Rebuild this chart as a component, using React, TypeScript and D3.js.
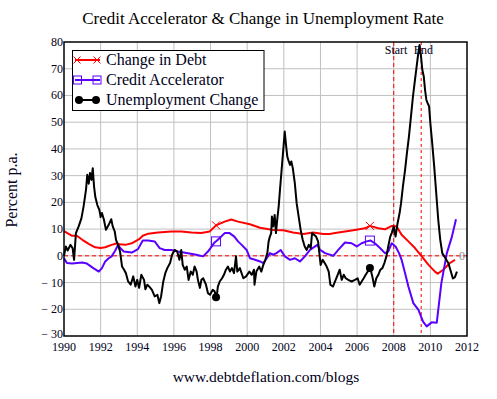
import React from 'react';
import * as d3 from 'd3';

// ---------- DATA ----------
const xTicks = [1990, 1992, 1994, 1996, 1998, 2000, 2002, 2004, 2006, 2008, 2010, 2012];
const yTicks = [-30, -20, -10, 0, 10, 20, 30, 40, 50, 60, 70, 80];

const debtYears = [1990, 1990.44, 1990.7, 1991, 1991.35, 1991.7, 1992, 1992.25, 1992.6, 1992.9, 1993.0, 1993.35, 1993.7, 1994.1, 1994.3, 1994.6, 1995.13, 1995.86, 1996.4, 1996.95, 1997.5, 1997.95, 1998.3, 1998.77, 1999.13, 1999.5, 2000.15, 2000.7, 2001.42, 2001.97, 2002.5, 2003.07, 2003.6, 2004.15, 2004.5, 2004.8, 2005.34, 2005.88, 2006.43, 2006.7, 2007.16, 2007.52, 2007.9, 2008.16, 2008.43, 2008.8, 2009.16, 2009.53, 2009.9, 2010.25, 2010.4, 2010.7, 2011.07, 2011.34];
const debtValues = [9.2, 7.5, 7.5, 6, 4.5, 3.2, 2.9, 3.2, 4.1, 4.7, 4.3, 4.1, 4.7, 6.2, 7.5, 8.3, 8.7, 9.1, 9.1, 8.7, 8.5, 9.1, 11.4, 12.8, 13.6, 12.8, 11.8, 10.5, 9.7, 9.6, 8.7, 8.2, 8.7, 8.2, 8.2, 8.5, 9.1, 9.7, 10.3, 11.2, 10.3, 9.9, 11.2, 11, 7.9, 5.4, 2.9, -0.2, -3.4, -5.9, -6.7, -5.2, -2.7, -1.5];

const accelYears = [1990, 1990.16, 1990.44, 1991, 1991.25, 1991.6, 1991.9, 1992.07, 1992.25, 1992.44, 1992.6, 1992.8, 1992.95, 1993.07, 1993.26, 1993.7, 1994.04, 1994.3, 1994.6, 1994.95, 1995.22, 1995.5, 1995.86, 1996.22, 1996.77, 1997.22, 1997.59, 1997.86, 1998.22, 1998.4, 1998.77, 1999.04, 1999.3, 1999.5, 1999.7, 1999.97, 2000.15, 2000.43, 2000.7, 2000.88, 2001.07, 2001.24, 2001.42, 2001.6, 2001.83, 2002.06, 2002.34, 2002.6, 2002.88, 2003.15, 2003.43, 2003.83, 2003.98, 2004.25, 2004.7, 2004.97, 2005.34, 2005.7, 2005.98, 2006.25, 2006.52, 2006.74, 2006.97, 2007.25, 2007.52, 2007.7, 2007.89, 2008.1, 2008.29, 2008.43, 2008.62, 2008.8, 2009.07, 2009.35, 2009.6, 2009.8, 2010.07, 2010.35, 2010.6, 2010.9, 2011.17, 2011.4];
const accelValues = [-0.9, -2.7, -2.9, -2.5, -2.9, -4.6, -5.9, -4.6, -2.1, -0.9, -0.2, 2, 4.1, 2.9, 1.6, 1.2, 2.5, 5.7, 5.7, 5.4, 2.9, 2.2, 2.2, 1.6, 1, 0.4, -0.2, 1.6, 5.0, 6, 8.5, 8.5, 7.2, 5.4, 4.1, 2.2, -0.9, -1.5, -2.1, -2.7, -0.9, 1, 0.4, 1, 2.2, -0.2, -1.5, -0.9, -2.1, -0.2, 2.2, 4.1, 2.2, 1, 0, 2.2, 5, 4.7, 3.5, 4.7, 5.4, 5.7, 4.7, 2.9, 1, 1.6, 4.7, 3.5, 1, -1.5, -6.5, -11.5, -17.7, -20.2, -24.6, -26.4, -24.9, -25, -10.2, 1, 7, 13.7];

const unempYears = [1990.0, 1990.1, 1990.2, 1990.35, 1990.47, 1990.55, 1990.65, 1990.8, 1990.95, 1991.07, 1991.2, 1991.27, 1991.35, 1991.42, 1991.5, 1991.57, 1991.64, 1991.71, 1991.82, 1991.93, 1992.0, 1992.07, 1992.18, 1992.29, 1992.44, 1992.58, 1992.66, 1992.77, 1992.84, 1992.95, 1993.06, 1993.17, 1993.28, 1993.38, 1993.5, 1993.64, 1993.78, 1993.9, 1994.0, 1994.1, 1994.22, 1994.37, 1994.44, 1994.55, 1994.68, 1994.8, 1994.95, 1995.1, 1995.2, 1995.3, 1995.42, 1995.53, 1995.64, 1995.79, 1995.9, 1996.04, 1996.18, 1996.3, 1996.4, 1996.48, 1996.59, 1996.7, 1996.8, 1996.92, 1997.03, 1997.13, 1997.24, 1997.31, 1997.42, 1997.5, 1997.6, 1997.75, 1997.86, 1997.97, 1998.12, 1998.22, 1998.33, 1998.4, 1998.5, 1998.63, 1998.73, 1998.84, 1998.95, 1999.06, 1999.17, 1999.28, 1999.39, 1999.46, 1999.6, 1999.79, 1999.94, 2000.12, 2000.25, 2000.37, 2000.4, 2000.5, 2000.66, 2000.77, 2000.88, 2000.99, 2001.1, 2001.17, 2001.24, 2001.31, 2001.35, 2001.42, 2001.5, 2001.57, 2001.64, 2001.72, 2001.79, 2001.88, 2001.97, 2002.05, 2002.12, 2002.19, 2002.27, 2002.34, 2002.41, 2002.49, 2002.6, 2002.7, 2002.81, 2002.92, 2003.03, 2003.14, 2003.25, 2003.36, 2003.47, 2003.54, 2003.65, 2003.76, 2003.87, 2003.94, 2004.01, 2004.12, 2004.23, 2004.34, 2004.45, 2004.54, 2004.68, 2004.83, 2004.94, 2005.05, 2005.16, 2005.27, 2005.38, 2005.52, 2005.7, 2005.88, 2006.03, 2006.14, 2006.25, 2006.36, 2006.47, 2006.58, 2006.72, 2006.83, 2006.94, 2007.05, 2007.16, 2007.27, 2007.38, 2007.49, 2007.6, 2007.7, 2007.81, 2007.89, 2008.0, 2008.1, 2008.21, 2008.32, 2008.4, 2008.5, 2008.62, 2008.72, 2008.83, 2008.94, 2009.05, 2009.16, 2009.25, 2009.34, 2009.41, 2009.49, 2009.56, 2009.64, 2009.71, 2009.78, 2009.85, 2009.93, 2010.0, 2010.1, 2010.21, 2010.32, 2010.43, 2010.54, 2010.65, 2010.76, 2010.87, 2010.98, 2011.09, 2011.23, 2011.34, 2011.45];
const unempValues = [0, 3.5, 2, 4.1, 2.9, -1.5, 8.5, 11, 14, 18.5, 24.7, 30.3, 27, 31, 28.4, 32.8, 26, 22, 19, 17.2, 14.5, 16, 13.5, 9.7, 11.6, 13.7, 11, 9.1, 6, 4.1, 1.6, -4, -5.2, -6.5, -9.6, -10.8, -7.7, -11.5, -9, -12, -7.1, -9, -12.5, -10.8, -11.7, -12.7, -15.2, -14.6, -17.7, -15.2, -9.6, -6.5, -4.6, -2.7, 0.4, 2.2, 1.6, -1.5, 2.2, -3.4, -5.2, -4, -9, -5.9, -7.1, -4, -5.9, -9, -12, -9, -8.4, -10.8, -14, -14.6, -12.7, -13.3, -15.5, -11.5, -9.6, -8.4, -7.1, -5.2, -4, -5.9, -4.6, -6.5, -0.2, -5.9, -4.6, -8.4, -7.7, -5.9, -7.1, -5.2, -10.8, -5.9, -4, -5.9, -3.4, -1.5, 1, 5.4, 7.2, 8.5, 14.7, 11, 15.3, 8.5, 13.5, 18.5, 24.7, 32.2, 39.7, 46.5, 41.5, 37.1, 35.3, 34, 35.3, 32.8, 27.2, 19.7, 14.7, 9.7, 6, 3.5, 2.2, 4.1, 2.9, 8.5, 7.9, 7.2, 5.4, 1, -3.4, -1.5, -2.7, -4, -5.9, -10.8, -11.5, -9, -7.1, -5.2, -9, -7.1, -8.4, -9, -9.6, -9, -8.4, -10.8, -9.6, -8.4, -7.1, -5.9, -4.6, -7.7, -11.5, -8.4, -7.1, -5.2, -4.6, -2.7, -0.2, 3.5, 7.2, 8.5, 11, 7.2, 12.2, 16, 19.7, 25.9, 32.2, 38.4, 44.6, 52.1, 59.6, 65.8, 70.8, 75.8, 78.9, 74.6, 69.6, 67.1, 62.1, 58.4, 57.1, 55.9, 49.6, 42.2, 33.4, 23.5, 13.5, 6, 1, -0.2, -1.5, -2.7, -5.2, -8.5, -8, -5.9];

const markerYears = [1998.3, 2006.7];
const debtMarkers = [11.4, 11.2];
const accelMarkers = [5.4, 5.7];
const unempMarkers = [-15.5, -4.6];

const startYear = 2008;
const endYear = 2009.5;

const legendLabels = ['Change in Debt', 'Credit Accelerator', 'Unemployment Change'];

// ---------- CHART ----------
const W = 497, H = 399;
const L = 64, R = 467, T = 42, B = 336;
const RED = '#ff0000';
const BLUE = '#5a00ff';
const TEXT = '#000020';
const SERIF = '"Liberation Serif", "Times New Roman", serif';

function fmtY(v: number) {
  return v < 0 ? `\u2212 ${Math.abs(v)}` : `${v}`;
}

export default function App() {
  const x = d3.scaleLinear().domain([1990, 2012]).range([L, R]);
  const y = d3.scaleLinear().domain([-30, 80]).range([B, T]);

  const mk = (ys: number[], vs: number[]) =>
    d3.line<number>().x((_, i) => x(ys[i])).y((v) => y(v))(vs) || '';

  const debtPath = mk(debtYears, debtValues);
  const accelPath = mk(accelYears, accelValues);
  const unempPath = mk(unempYears, unempValues);

  const xMark = (cx: number, cy: number, s: number, key: string) => (
    <g key={key} stroke={RED} strokeWidth={1}>
      <line x1={cx - s} y1={cy - s} x2={cx + s} y2={cy + s} />
      <line x1={cx - s} y1={cy + s} x2={cx + s} y2={cy - s} />
    </g>
  );
  const sqMark = (cx: number, cy: number, s: number, key: string) => (
    <rect key={key} x={cx - s} y={cy - s} width={2 * s} height={2 * s} fill="none" stroke={BLUE} strokeWidth={1} />
  );
  const dotMark = (cx: number, cy: number, r: number, key: string) => (
    <circle key={key} cx={cx} cy={cy} r={r} fill="#000" />
  );

  const lx0 = 75, lx1 = 100;
  const legendRows = [60, 80, 100];

  return (
    <svg width={W} height={H} style={{ position: 'absolute', left: 0, top: 0, background: '#fff' }} fontFamily={SERIF}>
      <rect x={0} y={0} width={W} height={H} fill="#fff" />
      {/* grid */}
      {xTicks.slice(1, -1).map((t) => (
        <line key={'gx' + t} x1={x(t)} x2={x(t)} y1={T} y2={B} stroke="#c0c0c0" strokeWidth={1} />
      ))}
      {yTicks.slice(1, -1).map((t) => (
        <line key={'gy' + t} x1={L} x2={R} y1={y(t)} y2={y(t)} stroke="#c0c0c0" strokeWidth={1} />
      ))}
      {/* zero and event lines */}
      <line x1={L} x2={R} y1={y(0)} y2={y(0)} stroke={RED} strokeWidth={1} strokeDasharray="4,3" />
      <line x1={x(startYear)} x2={x(startYear)} y1={T} y2={B} stroke={RED} strokeWidth={1} strokeDasharray="4,3" />
      <line x1={x(endYear)} x2={x(endYear)} y1={T} y2={B} stroke={RED} strokeWidth={1} strokeDasharray="3,3" />

      {/* series */}
      <path d={debtPath} fill="none" stroke={RED} strokeWidth={2} strokeLinejoin="round" />
      <path d={accelPath} fill="none" stroke={BLUE} strokeWidth={2} strokeLinejoin="round" />
      <path d={unempPath} fill="none" stroke="#000" strokeWidth={2} strokeLinejoin="round" />
      {markerYears.map((yr, i) => xMark(x(yr), y(debtMarkers[i]), 4, 'dm' + i))}
      {markerYears.map((yr, i) => sqMark(x(yr), y(accelMarkers[i]), 4.5, 'am' + i))}
      {markerYears.map((yr, i) => dotMark(x(yr), y(unempMarkers[i]), 4, 'um' + i))}

      {/* frame */}
      <rect x={L} y={T} width={R - L} height={B - T} fill="none" stroke="#000" strokeWidth={1.5} />

      {/* annotations */}
      <text x={x(startYear) - 9} y={54} fontSize={12} fill={TEXT}>Start</text>
      <text x={x(endYear) - 7.5} y={54} fontSize={12} fill={TEXT}>End</text>
      <text x={462} y={y(0) + 4} fontSize={12} fill="#888" textAnchor="middle">0</text>

      {/* axes labels */}
      {yTicks.map((t) => (
        <text key={'yl' + t} x={L - 1} y={y(t) + (t === -30 ? 2 : 4)} fontSize={12} fill={TEXT} textAnchor="end">{fmtY(t)}</text>
      ))}
      {xTicks.map((t) => (
        <text key={'xl' + t} x={x(t)} y={351} fontSize={12} fill={TEXT} textAnchor="middle">{t}</text>
      ))}

      {/* legend */}
      <rect x={72.5} y={50.5} width={191.5} height={60} fill="#fff" stroke="#000" strokeWidth={1} />
      <line x1={lx0} x2={lx1} y1={legendRows[0]} y2={legendRows[0]} stroke={RED} strokeWidth={2} />
      {xMark(lx0 + 2, legendRows[0], 3.5, 'l0a')}
      {xMark(lx1 - 3, legendRows[0], 3.5, 'l0b')}
      <line x1={lx0} x2={lx1} y1={legendRows[1]} y2={legendRows[1]} stroke={BLUE} strokeWidth={2} />
      {sqMark(lx0 + 2.5, legendRows[1], 4, 'l1a')}
      {sqMark(lx1 - 3, legendRows[1], 4, 'l1b')}
      <line x1={lx0} x2={lx1} y1={legendRows[2]} y2={legendRows[2]} stroke="#000" strokeWidth={2} />
      {dotMark(lx0 + 4, legendRows[2], 4, 'l2a')}
      {dotMark(lx1 - 4, legendRows[2], 4, 'l2b')}
      {legendLabels.map((lab, i) => (
        <text key={lab} x={106} y={legendRows[i] + 5} fontSize={16} fill={TEXT}>{lab}</text>
      ))}

      {/* titles */}
      <text x={263} y={24} fontSize={17} fill="#000" textAnchor="middle">Credit Accelerator &amp; Change in Unemployment Rate</text>
      <text transform={`translate(17,190) rotate(-90)`} fontSize={16} fill={TEXT} textAnchor="middle">Percent p.a.</text>
      <text x={266} y={382} fontSize={15.5} fill={TEXT} textAnchor="middle">www.debtdeflation.com/blogs</text>
    </svg>
  );
}
